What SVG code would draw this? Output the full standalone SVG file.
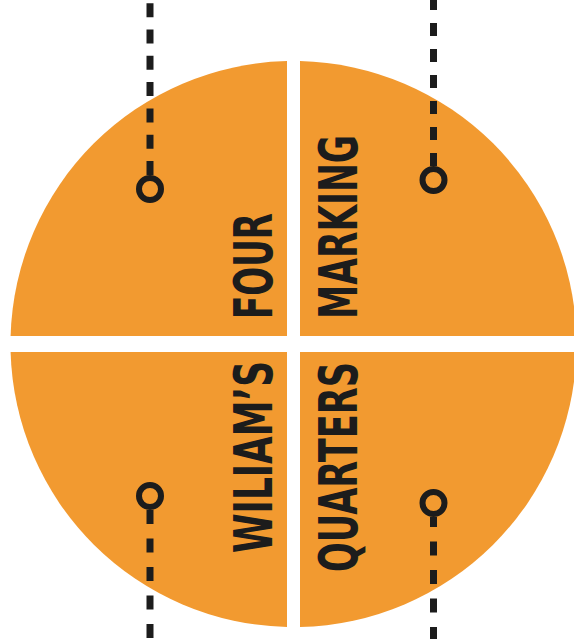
<svg xmlns="http://www.w3.org/2000/svg" width="574" height="639" viewBox="0 0 574 639">
<style>
.q{fill:#F29A30}
.dash{stroke:#1c1c1c;stroke-width:7;fill:none}
.ring{stroke:#1c1c1c;stroke-width:6;fill:none}
.lbl{font-family:"DejaVu Sans Condensed","Liberation Sans",Arial,sans-serif;font-weight:bold;font-size:54px;fill:#1c1c1c}
</style>
<rect width="574" height="639" fill="#ffffff"/>
<g id="quarter-top-left"><path class="q" d="M287,336 L287,61.1 A283,283 0 0 0 10.6,336 Z"/></g>
<g id="quarter-top-right"><path class="q" d="M300,336 L300,61.1 A283,283 0 0 1 576.4,336 Z"/></g>
<g id="quarter-bottom-left"><path class="q" d="M287,352 L10.6,352 A283,283 0 0 0 287,627 Z"/></g>
<g id="quarter-bottom-right"><path class="q" d="M300,352 L576.4,352 A283,283 0 0 1 300,627 Z"/></g>
<g id="connectors">
<line class="dash" x1="150" y1="175" x2="150" y2="0" stroke-dasharray="14 12.3"/>
<line class="dash" x1="433.5" y1="166" x2="433.5" y2="0" stroke-dasharray="13 13"/>
<line class="dash" x1="150" y1="510" x2="150" y2="639" stroke-dasharray="14 14.5"/>
<line class="dash" x1="433.5" y1="517" x2="433.5" y2="639" stroke-dasharray="14 14.5" stroke-dashoffset="4"/>
</g>
<g id="ring-top-left"><circle class="ring" cx="150" cy="189" r="11"/></g>
<g id="ring-top-right"><circle class="ring" cx="433.5" cy="180" r="11"/></g>
<g id="ring-bottom-left"><circle class="ring" cx="150" cy="496" r="11"/></g>
<g id="ring-bottom-right"><circle class="ring" cx="433.5" cy="503" r="11"/></g>
<g id="label-four"><text class="lbl" transform="translate(271.5,319) rotate(-90)" textLength="106" lengthAdjust="spacingAndGlyphs">FOUR</text></g>
<g id="label-marking"><text class="lbl" transform="translate(356.5,319) rotate(-90)" textLength="184" lengthAdjust="spacingAndGlyphs">MARKING</text></g>
<g id="label-wiliams"><text class="lbl" transform="translate(271.5,553) rotate(-90)" textLength="192" lengthAdjust="spacingAndGlyphs">WILIAM’S</text></g>
<g id="label-quarters"><text class="lbl" transform="translate(356.5,572) rotate(-90)" textLength="210" lengthAdjust="spacingAndGlyphs">QUARTERS</text></g>
</svg>
